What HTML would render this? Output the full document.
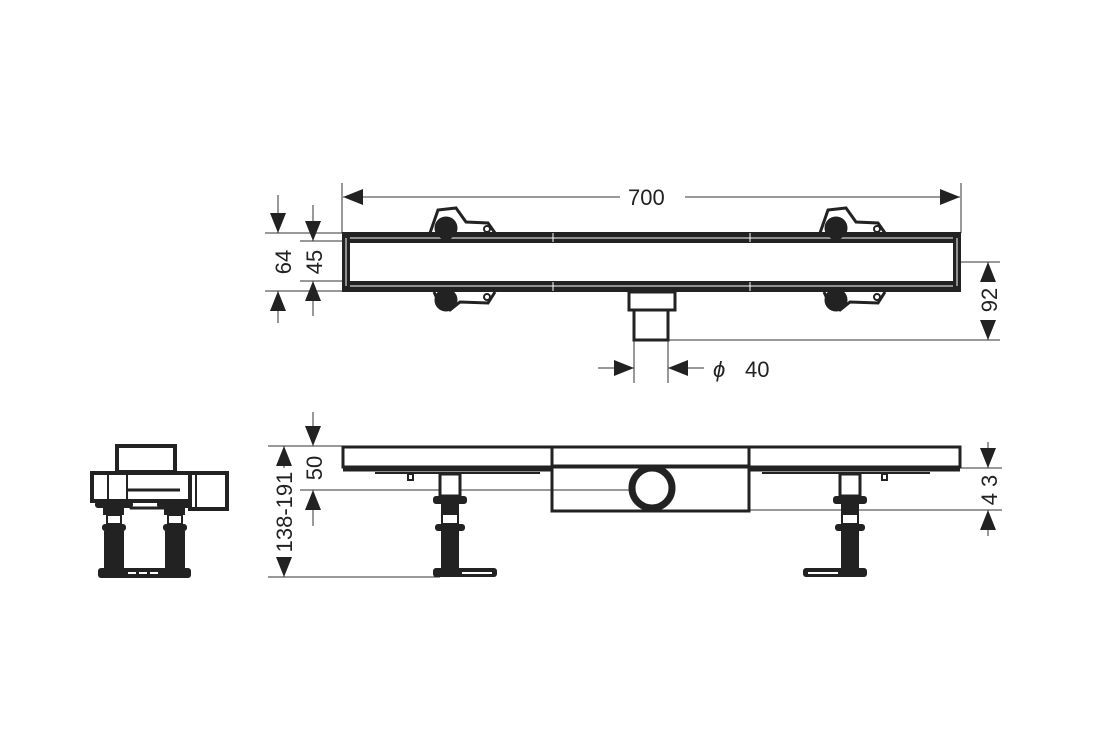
<!DOCTYPE html>
<html><head><meta charset="utf-8"><style>
html,body{margin:0;padding:0;background:#fff}
svg{display:block}
text{font-family:"Liberation Sans",sans-serif;fill:#222;font-size:22px}
</style></head><body>
<svg width="1120" height="750" viewBox="0 0 1120 750">
<defs>
<marker id="a" markerWidth="20" markerHeight="16" refX="20" refY="8" orient="auto" markerUnits="userSpaceOnUse"><path d="M0,0 L20,8 L0,16 Z" fill="#222"/></marker>
</defs>
<g stroke="#333" stroke-width="1" fill="none">
<line x1="342" y1="183" x2="342" y2="233"/><line x1="961" y1="183" x2="961" y2="233"/>
<line x1="620" y1="197" x2="343" y2="197" marker-end="url(#a)"/>
<line x1="685" y1="197" x2="960" y2="197" marker-end="url(#a)"/>
<line x1="265" y1="233" x2="342" y2="233"/><line x1="265" y1="291" x2="342" y2="291"/>
<line x1="300" y1="241" x2="342" y2="241"/><line x1="300" y1="281" x2="342" y2="281"/>
<line x1="278" y1="195" x2="278" y2="233" marker-end="url(#a)"/>
<line x1="278" y1="323" x2="278" y2="291" marker-end="url(#a)"/>
<line x1="313" y1="205" x2="313" y2="241" marker-end="url(#a)"/>
<line x1="313" y1="316" x2="313" y2="281" marker-end="url(#a)"/>
<line x1="961" y1="262" x2="1000" y2="262"/><line x1="668" y1="340" x2="1000" y2="340"/>
<line x1="988" y1="282" x2="988" y2="262" marker-end="url(#a)"/>
<line x1="988" y1="320" x2="988" y2="340" marker-end="url(#a)"/>
<line x1="634" y1="340" x2="634" y2="383"/><line x1="668" y1="340" x2="668" y2="383"/>
<line x1="598" y1="368" x2="634" y2="368" marker-end="url(#a)"/>
<line x1="704" y1="368" x2="668" y2="368" marker-end="url(#a)"/>
<line x1="268" y1="446" x2="342" y2="446"/><line x1="300" y1="490" x2="640" y2="490"/>
<line x1="268" y1="577" x2="440" y2="577"/>
<line x1="284" y1="468" x2="284" y2="446" marker-end="url(#a)"/>
<line x1="284" y1="557" x2="284" y2="577" marker-end="url(#a)"/>
<line x1="313" y1="412" x2="313" y2="446" marker-end="url(#a)"/>
<line x1="313" y1="526" x2="313" y2="490" marker-end="url(#a)"/>
<line x1="961" y1="468" x2="1002" y2="468"/><line x1="750" y1="510" x2="1002" y2="510"/>
<line x1="988" y1="442" x2="988" y2="468" marker-end="url(#a)"/>
<line x1="988" y1="536" x2="988" y2="510" marker-end="url(#a)"/>
</g>
<text x="628" y="205">700</text>
<text x="713" y="377" font-style="italic">ϕ</text><text x="745" y="377">40</text>
<text transform="translate(291,262) rotate(-90)" text-anchor="middle">64</text>
<text transform="translate(322,262) rotate(-90)" text-anchor="middle">45</text>
<text transform="translate(997,300) rotate(-90)" text-anchor="middle">92</text>
<text transform="translate(292,512) rotate(-90)" text-anchor="middle">138-191</text>
<text transform="translate(322,468) rotate(-90)" text-anchor="middle">50</text>
<text transform="translate(997,490) rotate(-90)" text-anchor="middle">4 3</text>

<g stroke="#222" fill="none">
<g fill="#222" stroke="none">
<rect x="342" y="232" width="619" height="11"/>
<rect x="342" y="281" width="619" height="11"/>
<rect x="342" y="232" width="8" height="60"/>
<rect x="953" y="232" width="8" height="60"/>
</g>
<g stroke="#fff" stroke-width="1">
<line x1="350" y1="238" x2="953" y2="238"/><line x1="350" y1="286" x2="953" y2="286"/>
<line x1="346" y1="238" x2="346" y2="286"/><line x1="957" y1="238" x2="957" y2="286"/>
<line x1="553" y1="233" x2="553" y2="242"/><line x1="750" y1="233" x2="750" y2="242"/>
<line x1="553" y1="282" x2="553" y2="291"/><line x1="750" y1="282" x2="750" y2="291"/>
</g>
<rect x="629" y="292" width="46" height="18" stroke-width="3" fill="#fff"/>
<rect x="634" y="310" width="34" height="30" stroke-width="3" fill="#fff"/>
<g id="bt">
<path d="M430,233 L438,210 L456,208 L466,222 L488,223 L495,233" stroke-width="3"/>
<circle cx="446" cy="228" r="11" fill="#222"/>
<circle cx="487" cy="229" r="3" stroke-width="2"/>
<path d="M434,292 L440,305 L450,310 L460,302 L488,303 L495,292" stroke-width="3"/>
<circle cx="446" cy="300" r="11" fill="#222"/>
<circle cx="487" cy="297" r="3" stroke-width="2"/>
</g>
<use href="#bt" transform="translate(390,0)"/>

<rect x="343" y="447" width="617" height="20" stroke-width="3"/>
<line x1="343" y1="470" x2="551" y2="470" stroke-width="3"/>
<line x1="750" y1="470" x2="960" y2="470" stroke-width="3"/>
<rect x="552" y="447" width="197" height="64" stroke-width="3"/>
<line x1="552" y1="466" x2="749" y2="466" stroke-width="3"/>
<circle cx="652" cy="488" r="20" stroke-width="7" fill="#fff"/>
<path d="M375,473 L540,473 M762,473 L930,473" stroke-width="2"/>
<rect x="408" y="474" width="5" height="6" stroke-width="2"/>
<rect x="882" y="474" width="5" height="6" stroke-width="2"/>
<g id="leg">
<rect x="440" y="474" width="20" height="22" stroke-width="3" fill="#fff"/>
<rect x="433" y="496" width="34" height="8" rx="3" fill="#222" stroke="none"/>
<rect x="441" y="504" width="18" height="10" fill="#222" stroke="none"/>
<rect x="442" y="514" width="16" height="10" stroke-width="2"/>
<rect x="435" y="524" width="30" height="7" rx="3" fill="#222" stroke="none"/>
<rect x="441" y="531" width="18" height="38" fill="#222" stroke="none"/>
<rect x="433" y="568" width="64" height="9" rx="3" fill="#222" stroke="none"/>
<line x1="462" y1="573" x2="492" y2="573" stroke="#fff" stroke-width="2"/>
</g>
<g transform="translate(1300,0) scale(-1,1)"><use href="#leg"/></g>

<rect x="117" y="446" width="58" height="26" stroke-width="4"/>
<rect x="92" y="473" width="98" height="28" stroke-width="4"/>
<line x1="108" y1="473" x2="108" y2="501" stroke-width="2"/>
<line x1="127" y1="473" x2="127" y2="501" stroke-width="2"/>
<path d="M127,490 L180,490" stroke-width="3"/>
<rect x="190" y="473" width="37" height="36" stroke-width="4"/>
<line x1="196" y1="473" x2="196" y2="509" stroke-width="2"/>
<path d="M127,501 L131,508 L180,508 L183,501" stroke-width="3"/>
<g fill="#222" stroke="none">
<rect x="95" y="501" width="38" height="7" rx="3"/>
<rect x="157" y="501" width="34" height="7" rx="3"/>
<rect x="103" y="508" width="21" height="7"/><rect x="164" y="508" width="21" height="7"/>
<rect x="102" y="524" width="24" height="7" rx="3"/><rect x="163" y="524" width="24" height="7" rx="3"/>
<rect x="104" y="531" width="20" height="40"/><rect x="165" y="531" width="20" height="40"/>
<rect x="98" y="568" width="93" height="10" rx="3"/>
</g>
<rect x="107" y="515" width="14" height="9" stroke-width="2"/>
<rect x="168" y="515" width="14" height="9" stroke-width="2"/>
<line x1="128" y1="573" x2="160" y2="573" stroke="#fff" stroke-width="2" stroke-dasharray="8,3"/>
</g>
</svg>
</body></html>
